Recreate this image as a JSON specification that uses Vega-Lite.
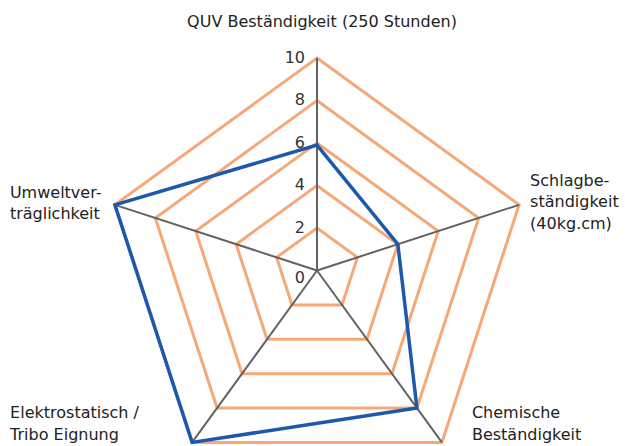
{
  "$schema": "https://vega.github.io/schema/vega-lite/v6.json",
  "width": 625,
  "height": 446,
  "padding": 0,
  "autosize": {"type": "none"},
  "background": "white",
  "config": {"view": {"stroke": null}, "font": "DejaVu Sans"},
  "datasets": {
    "axes": [
      {"i": 0, "axis": "QUV Beständigkeit (250 Stunden)", "value": 5.9},
      {"i": 1, "axis": "Schlagbe-|ständigkeit|(40kg.cm)", "value": 4},
      {"i": 2, "axis": "Chemische|Beständigkeit", "value": 8},
      {"i": 3, "axis": "Elektrostatisch /|Tribo Eignung", "value": 10},
      {"i": 4, "axis": "Umweltver-|träglichkeit", "value": 10}
    ],
    "grid": [
      {"level": 2, "i": 0}, {"level": 2, "i": 1}, {"level": 2, "i": 2}, {"level": 2, "i": 3}, {"level": 2, "i": 4},
      {"level": 4, "i": 0}, {"level": 4, "i": 1}, {"level": 4, "i": 2}, {"level": 4, "i": 3}, {"level": 4, "i": 4},
      {"level": 6, "i": 0}, {"level": 6, "i": 1}, {"level": 6, "i": 2}, {"level": 6, "i": 3}, {"level": 6, "i": 4},
      {"level": 8, "i": 0}, {"level": 8, "i": 1}, {"level": 8, "i": 2}, {"level": 8, "i": 3}, {"level": 8, "i": 4},
      {"level": 10, "i": 0}, {"level": 10, "i": 1}, {"level": 10, "i": 2}, {"level": 10, "i": 3}, {"level": 10, "i": 4}
    ],
    "ticks": [{"tick": 2}, {"tick": 4}, {"tick": 6}, {"tick": 8}, {"tick": 10}]
  },
  "layer": [
    {
      "data": {"name": "grid"},
      "transform": [
        {"calculate": "PI/2 - datum.i*2*PI/5", "as": "theta"},
        {"calculate": "datum.level*cos(datum.theta)", "as": "gx"},
        {"calculate": "datum.level*sin(datum.theta)", "as": "gy"}
      ],
      "mark": {"type": "line", "interpolate": "linear-closed", "stroke": "#F6A878", "strokeWidth": 3},
      "encoding": {
        "x": {"field": "gx", "type": "quantitative", "scale": {"domain": [-14.918, 14.494], "nice": false, "zero": false}, "axis": null},
        "y": {"field": "gy", "type": "quantitative", "scale": {"domain": [-8.259, 12.729], "nice": false, "zero": false}, "axis": null},
        "detail": {"field": "level", "type": "nominal"},
        "order": {"field": "i", "type": "quantitative"}
      }
    },
    {
      "data": {"name": "axes"},
      "transform": [
        {"calculate": "PI/2 - datum.i*2*PI/5", "as": "theta"},
        {"calculate": "0", "as": "cx"},
        {"calculate": "10*cos(datum.theta)", "as": "ex"},
        {"calculate": "10*sin(datum.theta)", "as": "ey"}
      ],
      "mark": {"type": "rule", "stroke": "#626262", "strokeWidth": 2},
      "encoding": {
        "x": {"field": "cx", "type": "quantitative"},
        "y": {"field": "cx", "type": "quantitative"},
        "x2": {"field": "ex"},
        "y2": {"field": "ey"}
      }
    },
    {
      "data": {"name": "axes"},
      "transform": [
        {"calculate": "PI/2 - datum.i*2*PI/5", "as": "theta"},
        {"calculate": "datum.value*cos(datum.theta)", "as": "vx"},
        {"calculate": "datum.value*sin(datum.theta)", "as": "vy"}
      ],
      "mark": {"type": "line", "interpolate": "linear-closed", "stroke": "#1D58AD", "strokeWidth": 3.5},
      "encoding": {
        "x": {"field": "vx", "type": "quantitative"},
        "y": {"field": "vy", "type": "quantitative"},
        "order": {"field": "i", "type": "quantitative"}
      }
    },
    {
      "data": {"name": "ticks"},
      "transform": [{"calculate": "0", "as": "cx"}],
      "mark": {"type": "text", "align": "right", "baseline": "middle", "dx": -12, "fontSize": 16, "color": "#333333"},
      "encoding": {
        "x": {"field": "cx", "type": "quantitative"},
        "y": {"field": "tick", "type": "quantitative"},
        "text": {"field": "tick", "type": "quantitative"}
      }
    },
    {
      "data": {"values": [{"tick": 0}]},
      "transform": [{"calculate": "0", "as": "cx"}],
      "mark": {"type": "text", "align": "right", "baseline": "middle", "dx": -12, "dy": 8, "fontSize": 16, "color": "#333333"},
      "encoding": {
        "x": {"field": "cx", "type": "quantitative"},
        "y": {"field": "tick", "type": "quantitative"},
        "text": {"field": "tick", "type": "quantitative"}
      }
    },
    {
      "data": {"name": "axes"},
      "transform": [
        {"filter": "datum.i == 0"},
        {"calculate": "PI/2 - datum.i*2*PI/5", "as": "theta"},
        {"calculate": "10*cos(datum.theta)", "as": "ex"},
        {"calculate": "10*sin(datum.theta)", "as": "ey"}
      ],
      "mark": {"type": "text", "align": "center", "baseline": "middle", "dx": 5, "dy": -36, "fontSize": 16, "color": "#222222", "lineBreak": "|", "lineHeight": 21.5},
      "encoding": {
        "x": {"field": "ex", "type": "quantitative"},
        "y": {"field": "ey", "type": "quantitative"},
        "text": {"field": "axis"}
      }
    },
    {
      "data": {"name": "axes"},
      "transform": [
        {"filter": "datum.i == 1"},
        {"calculate": "PI/2 - datum.i*2*PI/5", "as": "theta"},
        {"calculate": "10*cos(datum.theta)", "as": "ex"},
        {"calculate": "10*sin(datum.theta)", "as": "ey"}
      ],
      "mark": {"type": "text", "align": "left", "baseline": "middle", "dx": 11, "dy": -24, "fontSize": 16, "color": "#222222", "lineBreak": "|", "lineHeight": 21.5},
      "encoding": {
        "x": {"field": "ex", "type": "quantitative"},
        "y": {"field": "ey", "type": "quantitative"},
        "text": {"field": "axis"}
      }
    },
    {
      "data": {"name": "axes"},
      "transform": [
        {"filter": "datum.i == 2"},
        {"calculate": "PI/2 - datum.i*2*PI/5", "as": "theta"},
        {"calculate": "10*cos(datum.theta)", "as": "ex"},
        {"calculate": "10*sin(datum.theta)", "as": "ey"}
      ],
      "mark": {"type": "text", "align": "left", "baseline": "middle", "dx": 30, "dy": -29, "fontSize": 16, "color": "#222222", "lineBreak": "|", "lineHeight": 21.5},
      "encoding": {
        "x": {"field": "ex", "type": "quantitative"},
        "y": {"field": "ey", "type": "quantitative"},
        "text": {"field": "axis"}
      }
    },
    {
      "data": {"name": "axes"},
      "transform": [
        {"filter": "datum.i == 3"},
        {"calculate": "PI/2 - datum.i*2*PI/5", "as": "theta"},
        {"calculate": "10*cos(datum.theta)", "as": "ex"},
        {"calculate": "10*sin(datum.theta)", "as": "ey"}
      ],
      "mark": {"type": "text", "align": "left", "baseline": "middle", "dx": -182, "dy": -29, "fontSize": 16, "color": "#222222", "lineBreak": "|", "lineHeight": 21.5},
      "encoding": {
        "x": {"field": "ex", "type": "quantitative"},
        "y": {"field": "ey", "type": "quantitative"},
        "text": {"field": "axis"}
      }
    },
    {
      "data": {"name": "axes"},
      "transform": [
        {"filter": "datum.i == 4"},
        {"calculate": "PI/2 - datum.i*2*PI/5", "as": "theta"},
        {"calculate": "10*cos(datum.theta)", "as": "ex"},
        {"calculate": "10*sin(datum.theta)", "as": "ey"}
      ],
      "mark": {"type": "text", "align": "left", "baseline": "middle", "dx": -105, "dy": -12, "fontSize": 16, "color": "#222222", "lineBreak": "|", "lineHeight": 21.5},
      "encoding": {
        "x": {"field": "ex", "type": "quantitative"},
        "y": {"field": "ey", "type": "quantitative"},
        "text": {"field": "axis"}
      }
    }
  ]
}
